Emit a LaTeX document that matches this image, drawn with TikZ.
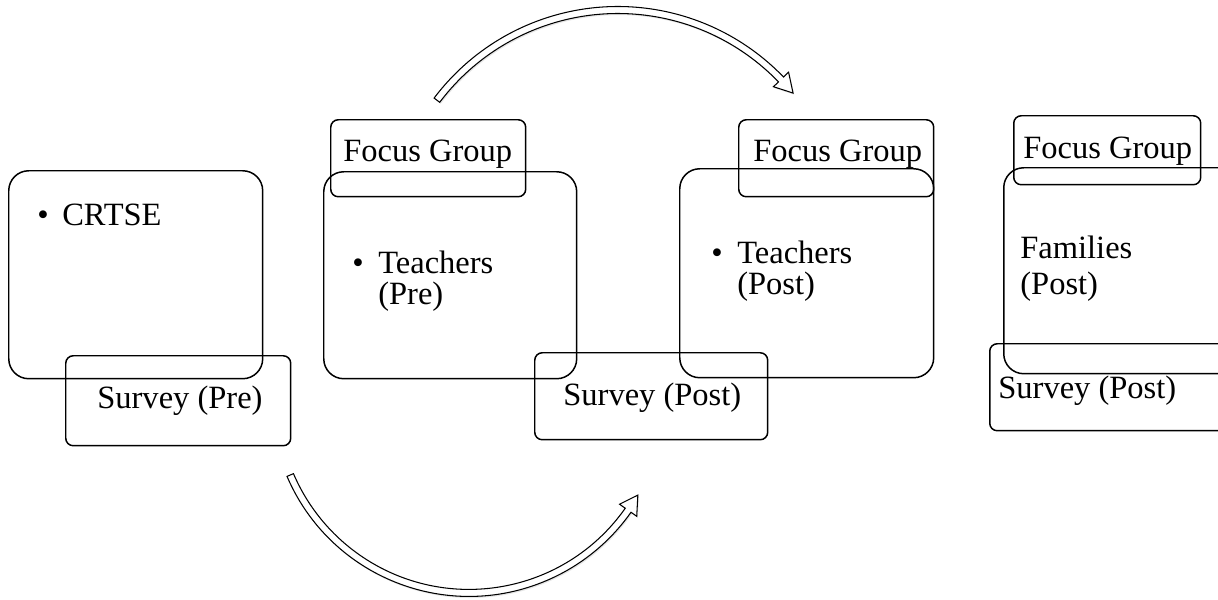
\documentclass[tikz,border=0pt]{standalone}
\usepackage{fontspec}
\setmainfont{Liberation Serif}
\usetikzlibrary{calc,shadows}

\tikzset{
  bigbox/.style={draw, line width=0.85pt, rounded corners=0.4cm, anchor=north west, inner sep=0pt},
  tagbox/.style={draw, line width=0.85pt, rounded corners=0.15cm, anchor=north west, inner sep=0pt},
  txt/.style={inner sep=0pt, anchor=base west, font=\fontsize{18.5}{17.6}\selectfont},
  hollow/.style={draw, fill=white, line width=0.6pt, line join=miter,
    drop shadow={shadow xshift=0.6pt, shadow yshift=-0.9pt, opacity=0.2}}
}
\newcommand{\twolines}[2]{\begin{tabular}[t]{@{}l@{}}#1\\#2\end{tabular}}

\begin{document}
\begin{tikzpicture}[x=0.02cm, y=0.02cm]
  \useasboundingbox (0,0) rectangle (1218,-599);
  \clip (0,0) rectangle (1218,-599);

  % big boxes
  \node[bigbox, minimum width=5.08cm, minimum height=4.16cm] (crtse) at (8,-170) {};
  \node[bigbox, minimum width=5.06cm, minimum height=4.14cm] (tchpre) at (323,-171) {};
  \node[bigbox, minimum width=5.08cm, minimum height=4.18cm] (tchpost) at (679,-168) {};
  \node[bigbox, minimum width=5.08cm, minimum height=4.12cm] (fam) at (1003,-167) {};

  % small boxes
  \node[tagbox, minimum width=4.5cm, minimum height=1.8cm] (srvpre) at (65,-355) {};
  \node[tagbox, minimum width=3.9cm, minimum height=1.54cm] (fgpre) at (330,-119) {};
  \node[tagbox, minimum width=3.9cm, minimum height=1.54cm] (fgpost) at (738,-119) {};
  \node[tagbox, minimum width=4.66cm, minimum height=1.74cm] (srvpost) at (534,-352) {};
  \node[tagbox, minimum width=3.74cm, minimum height=1.38cm] (fgfam) at (1013,-115) {};
  \node[tagbox, minimum width=5.2cm, minimum height=1.74cm] (srvfam) at (989,-343) {};

  % texts
  \node[txt] (crtse-t) at (37,-225) {\makebox[0.5cm][l]{\textbullet}CRTSE};
  \node[txt] (tchpre-t) at (352,-273) {\makebox[0.52cm][l]{\textbullet}\twolines{Teachers}{(Pre)}};
  \node[txt] (tchpost-t) at (711,-263) {\makebox[0.52cm][l]{\textbullet}\twolines{Teachers}{(Post)}};
  \node[txt] (fam-t) at (1020,-258) {\renewcommand{\arraystretch}{1.19}\twolines{Families}{(Post)}};
  \node[txt] (fgpre-t) at (343,-161) {Focus Group};
  \node[txt] (fgpost-t) at (753,-161) {Focus Group};
  \node[txt] (fgfam-t) at (1023,-158) {Focus Group};
  \node[txt] (srvpre-t) at (97,-408) {Survey (Pre)};
  \node[txt] (srvpost-t) at (563,-405) {Survey (Post)};
  \node[txt] (srvfam-t) at (998,-398) {Survey (Post)};

  % curved arrows
  \coordinate (topc) at (617.8,-236.5);
  \coordinate (botc) at (469,-398.4);
  \draw[hollow] ($(topc)+(143:230)$) arc[start angle=143, end angle=43.9, radius=230]
    -- ($(topc)+(43.9:237)$) -- ($(topc)+(39.3:226.5)$) -- ($(topc)+(43.9:216)$)
    -- ($(topc)+(43.9:223)$) arc[start angle=43.9, end angle=143, radius=223] -- cycle;
  \draw[hollow] ($(botc)+(203.2:198)$) arc[start angle=203.2, end angle=324.9, radius=198]
    -- ($(botc)+(324.9:205)$) -- ($(botc)+(330.2:194.6)$) -- ($(botc)+(324.9:184)$)
    -- ($(botc)+(324.9:191)$) arc[start angle=324.9, end angle=203.2, radius=191] -- cycle;
\end{tikzpicture}
\end{document}
